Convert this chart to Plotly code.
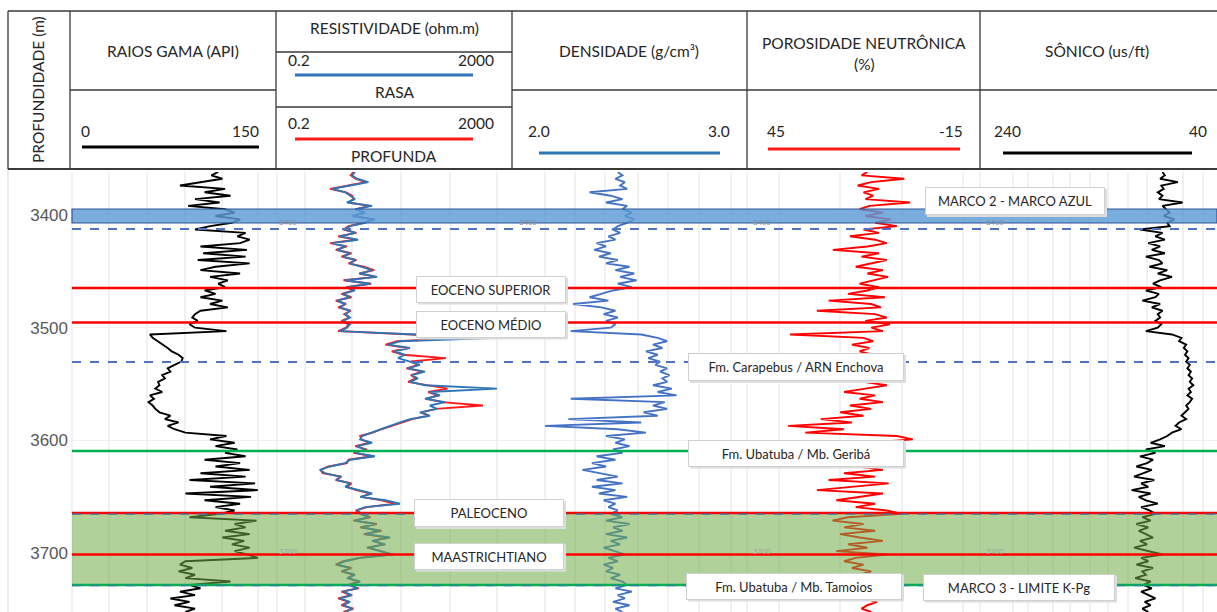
import plotly.graph_objects as go

# ---------------- data (depth in m) ----------------
depth = list(range(3362, 3753, 3))  # sampling depths

gr = [107, 102, 110, 94, 79, 112, 97, 116, 90, 108,
      85, 112, 119, 105, 123, 117, 101, 90, 127, 121,
      130, 123, 94, 128, 96, 127, 92, 130, 105, 94,
      123, 101, 114, 107, 112, 97, 105, 94, 110, 101,
      114, 94, 90, 88, 92, 86, 90, 113, 57, 59,
      63, 67, 70, 73, 78, 81, 80, 75, 70, 72,
      66, 68, 63, 64, 61, 66, 57, 60, 56, 59,
      61, 64, 72, 68, 78, 70, 75, 83, 113, 101,
      119, 105, 121, 112, 127, 97, 123, 105, 130, 94,
      127, 86, 134, 101, 136, 83, 131, 97, 123, 105,
      119, 108, 86, 135, 119, 127, 112, 130, 110, 126,
      117, 130, 119, 128, 136, 83, 79, 88, 78, 90,
      83, 116, 86, 94, 79, 90, 72, 86, 75, 90,
      83]

res_rasa = [4.25, 3.8, 4.6, 7.2, 3.5, 1.75, 2.9, 3.5, 4.25, 3.1,
            8.3, 4.25, 6.3, 3.8, 9.3, 6.3, 3.5, 2.9, 4.25, 2.36,
            4.8, 1.75, 2.9, 2.1, 3.5, 2.65, 4.25, 3.5, 5.6, 8.3,
            5.2, 10.1, 2.9, 7.7, 3.1, 4.25, 2.65, 3.5, 2.1, 2.9,
            2.36, 3.5, 2.9, 3.5, 2.65, 3.5, 3.1, 2.36, 45, 1111,
            24.8, 15.5, 36.7, 20, 30, 23, 36.7, 54, 34, 66,
            40, 50, 36.7, 66, 1111, 80, 119, 66, 145, 80,
            106, 54, 80, 36.7, 24.8, 16.8, 11.3, 7.7, 5.6, 5.2,
            8.3, 4.6, 6.3, 4.25, 9.3, 3.5, 2.9, 1.6, 1.08, 1.3,
            2.36, 2.1, 3.5, 2.9, 4.8, 8.3, 5.2, 14, 24.8, 6.3,
            4.6, 5.6, 7.2, 4.25, 9.3, 5.6, 11.3, 6.3, 16.8, 8.3,
            14, 7.2, 11.3, 18.9, 5.2, 2.9, 2.1, 3.5, 2.65, 4.25,
            3.1, 5.2, 3.5, 4.6, 2.65, 3.8, 2.36, 3.5, 2.65, 3.8,
            2.9]

res_profunda = [4.0, 3.6, 4.4, 6.5, 3.3, 1.6, 3.0, 3.8, 4.0, 3.3,
                7.5, 4.5, 6.0, 4.0, 8.5, 6.0, 3.3, 2.7, 4.5, 2.2,
                4.4, 1.6, 3.1, 2.0, 3.7, 2.5, 4.5, 3.3, 6.0, 9.0,
                5.0, 9.5, 2.7, 8.0, 3.0, 4.0, 2.5, 3.7, 2.0, 3.0,
                2.2, 3.6, 2.8, 3.4, 2.5, 3.3, 3.0, 2.2, 40, 300,
                22, 14, 33, 18, 28, 150, 38, 50, 32, 60,
                38, 46, 34, 70, 160, 75, 110, 70, 130, 640,
                100, 58, 75, 40, 28, 18, 12, 8.5, 5.2, 5.5,
                7.5, 4.3, 6.8, 4.0, 8.5, 3.3, 3.1, 1.5, 1.1, 1.2,
                2.5, 2.0, 3.7, 3.1, 4.5, 7.8, 5.5, 12, 20, 6.8,
                4.4, 5.2, 7.8, 4.0, 10, 5.2, 12, 6.0, 15, 8.8,
                13, 6.8, 12, 17, 5.0, 2.7, 2.0, 3.7, 2.5, 4.0,
                3.3, 4.8, 3.3, 4.9, 2.5, 3.6, 2.2, 3.3, 2.5, 4.0,
                2.7]

densidade = [2.45, 2.47, 2.44, 2.48, 2.46, 2.49, 2.33, 2.42, 2.47, 2.40,
             2.49, 2.47, 2.51, 2.48, 2.52, 2.49, 2.45, 2.43, 2.46, 2.41,
             2.44, 2.36, 2.40, 2.35, 2.42, 2.37, 2.45, 2.40, 2.50, 2.44,
             2.52, 2.46, 2.53, 2.45, 2.51, 2.43, 2.38, 2.33, 2.41, 2.26,
             2.38, 2.44, 2.39, 2.45, 2.40, 2.44, 2.42, 2.25, 2.55, 2.62,
             2.66, 2.60, 2.64, 2.57, 2.62, 2.58, 2.63, 2.61, 2.66, 2.63,
             2.67, 2.64, 2.66, 2.60, 2.68, 2.62, 2.70, 2.25, 2.65, 2.60,
             2.66, 2.56, 2.62, 2.24, 2.55, 2.14, 2.45, 2.57, 2.40, 2.48,
             2.44, 2.50, 2.43, 2.47, 2.36, 2.44, 2.34, 2.40, 2.30, 2.38,
             2.45, 2.36, 2.47, 2.34, 2.44, 2.37, 2.49, 2.39, 2.44, 2.41,
             2.45, 2.42, 2.47, 2.40, 2.50, 2.43, 2.47, 2.40, 2.49, 2.42,
             2.46, 2.39, 2.44, 2.48, 2.41, 2.45, 2.39, 2.43, 2.40, 2.46,
             2.42, 2.47, 2.49, 2.44, 2.51, 2.45, 2.48, 2.43, 2.50, 2.44,
             2.47]

porosidade = [14.0, 15.5, 4.5, 13.0, 16.5, 11.0, 15.0, 12.5, 14.5, 3.0,
              13.5, 16.0, 10.0, 14.5, 8.0, 12.0, 6.4, 15.0, 11.0, 18.5,
              12.0, 9.0, 14.0, 22.9, 11.0, 15.5, 9.0, 13.0, 17.0, 10.0,
              14.0, 8.7, 12.5, 16.0, 11.0, 14.0, 19.0, 9.5, 24.0, 13.0,
              10.5, 27.0, 12.0, 9.0, 14.5, 8.2, 13.0, 10.0, 33.9, 15.0,
              12.5, 18.0, 13.5, 16.0, 12.6, 15.0, 14.0, 16.5, 13.0, 15.5,
              14.0, 12.5, 15.0, 9.0, 14.5, 20.0, 12.0, 16.0, 10.0, 18.5,
              13.0, 21.0, 15.0, 26.0, 18.0, 34.4, 20.0, 30.0, 6.4, 2.3,
              14.0, 15.0, 13.5, 16.0, 12.0, 15.0, 14.0, 16.5, 10.0, 20.0,
              12.0, 24.0, 8.5, 18.0, 27.0, 10.0, 16.0, 22.0, 12.0, 17.0,
              9.0, 5.0, 19.0, 23.0, 15.0, 20.0, 12.0, 21.0, 16.0, 10.0,
              19.0, 14.0, 22.0, 9.0, 17.0, 20.0, 15.0, 18.0, 13.0, 16.0,
              14.0, 15.0, 13.0, 16.0, 14.5, 12.0, 15.0, 11.5, 14.0, 15.5,
              13.0]

sonico = [86, 84, 88, 73, 87, 85, 90, 86, 89, 69,
          86, 83, 80, 85, 76, 82, 80, 105, 86, 92,
          84, 98, 88, 95, 84, 100, 89, 86, 97, 82,
          90, 78, 88, 94, 87, 100, 89, 92, 103, 88,
          95, 86, 90, 88, 92, 87, 90, 100, 78, 70,
          72, 66, 68, 65, 67, 64, 66, 63, 65, 62,
          64, 61, 63, 60, 64, 62, 65, 61, 63, 66,
          64, 67, 70, 66, 72, 75, 70, 78, 82, 88,
          96, 84, 100, 92, 105, 94, 99, 108, 95, 102,
          110, 93, 104, 98, 112, 96, 106, 100, 90, 104,
          97, 92, 103, 96, 108, 98, 106, 100, 94, 105,
          99, 110, 97, 86, 104, 98, 108, 94, 103, 100,
          109, 96, 102, 95, 104, 98, 92, 101, 96, 103,
          98]

for arr in (gr, res_rasa, res_profunda, densidade, porosidade, sonico):
    assert len(arr) == len(depth), len(arr)

depth_ticks = [3400, 3500, 3600, 3700]

# marker bands / tops (depth, m)
marco2_band = (3394.8, 3407.2)
kpg_band = (3664.3, 3728.0)
tops_red = [3464.8, 3495.4, 3664.3, 3701.0]
tops_green = [3609.3, 3728.0]
tops_dashed = [3412.5, 3530.4]

# ---------------- helpers for layout placement (pixels -> paper) ----------------
L, R, T, B = 72, 1217, 172, 612
W, H = R - L, B - T


def PX(x):
    return (x - L) / W


def PY(y):
    return (B - y) / H


fig = go.Figure()

FONT = "Lato"
TXT = "#262626"
LW = 1.9

# ---------------- traces ----------------
fig.add_trace(go.Scatter(x=gr, y=depth, mode="lines", line=dict(color="#000000", width=LW),
                         xaxis="x", yaxis="y", showlegend=False))
fig.add_trace(go.Scatter(x=res_profunda, y=depth, mode="lines", line=dict(color="#ff1a1a", width=LW),
                         xaxis="x2", yaxis="y", showlegend=False))
fig.add_trace(go.Scatter(x=res_rasa, y=depth, mode="lines", line=dict(color="#2e75b6", width=LW),
                         xaxis="x2", yaxis="y", showlegend=False))
fig.add_trace(go.Scatter(x=densidade, y=depth, mode="lines", line=dict(color="#4472c4", width=LW),
                         xaxis="x3", yaxis="y", showlegend=False))
fig.add_trace(go.Scatter(x=porosidade, y=depth, mode="lines", line=dict(color="#ff0000", width=LW),
                         xaxis="x4", yaxis="y", showlegend=False))
fig.add_trace(go.Scatter(x=sonico, y=depth, mode="lines", line=dict(color="#000000", width=LW),
                         xaxis="x5", yaxis="y", showlegend=False))

shapes = []

# ---------------- faint grid lines ----------------
grid_px = [72, 109, 147, 185, 222, 258, 277,
           305, 352, 401, 450, 497,
           545, 575, 605, 638, 668, 699, 731,
           747, 779, 840, 902, 963,
           980, 1013, 1028, 1053, 1070, 1090, 1108, 1128, 1147, 1183, 1203]
for gx in grid_px:
    shapes.append(dict(type="line", xref="paper", yref="paper", x0=PX(gx), x1=PX(gx), y0=0, y1=1,
                       line=dict(color="#e3e3e3", width=1), layer="below"))
# plot left border
shapes.append(dict(type="line", xref="paper", yref="paper", x0=PX(8), x1=PX(8), y0=0, y1=PY(168),
                   line=dict(color="#d9d9d9", width=1), layer="below"))

# ---------------- marker bands and tops ----------------
shapes.append(dict(type="rect", xref="paper", yref="y", x0=0, x1=1, y0=marco2_band[0], y1=marco2_band[1],
                   fillcolor="rgba(91,155,213,0.82)", line=dict(color="#2f5597", width=1.2), layer="above"))
shapes.append(dict(type="rect", xref="paper", yref="y", x0=0, x1=1, y0=kpg_band[0], y1=kpg_band[1],
                   fillcolor="rgba(112,173,71,0.55)", line=dict(width=0), layer="above"))
for d in tops_dashed:
    shapes.append(dict(type="line", xref="paper", yref="y", x0=0, x1=1, y0=d, y1=d,
                       line=dict(color="#4f72c4", width=2, dash="dash"), layer="above"))
for d in tops_green:
    shapes.append(dict(type="line", xref="paper", yref="y", x0=0, x1=1, y0=d, y1=d,
                       line=dict(color="#00b050", width=2.5), layer="above"))
for d in tops_red:
    shapes.append(dict(type="line", xref="paper", yref="y", x0=0, x1=1, y0=d, y1=d,
                       line=dict(color="#ff0000", width=2.5), layer="above"))
# dashed edges of the K-Pg band
for d in (kpg_band[0] + 0.9, kpg_band[1] + 0.6):
    shapes.append(dict(type="line", xref="paper", yref="y", x0=0, x1=1, y0=d, y1=d,
                       line=dict(color="#3a7ca5", width=1.3, dash="dash"), layer="above"))

# ---------------- header table ----------------
HC = "#3a3a3a"


def hline(y, x0, x1, color=HC, w=1.3):
    shapes.append(dict(type="line", xref="paper", yref="paper", x0=PX(x0), x1=PX(x1), y0=PY(y), y1=PY(y),
                       line=dict(color=color, width=w)))


def vline(x, y0, y1, color=HC, w=1.3):
    shapes.append(dict(type="line", xref="paper", yref="paper", x0=PX(x), x1=PX(x), y0=PY(y0), y1=PY(y1),
                       line=dict(color=color, width=w)))


hline(11, 8, 1217)
hline(169, 8, 1217, w=2)
hline(90, 70, 276)
hline(52, 276, 512)
hline(107, 276, 512)
hline(90, 512, 1217)
for x in (8, 70, 276, 512, 747, 980):
    vline(x, 11, 169)

# scale bars in header
hline(147, 82, 259, color="#000000", w=3)
hline(75, 295, 473, color="#2e75b6", w=3)
hline(139, 295, 473, color="#ff1a1a", w=3)
hline(153, 539, 720, color="#2e75b6", w=3)
hline(149, 768, 960, color="#ff1a1a", w=3)
hline(153, 1003, 1192, color="#000000", w=3)

annotations = []
HS = 15.5


def text(x, y, s, size=HS, anchor="center", angle=0, color=TXT, family=FONT):
    annotations.append(dict(x=PX(x), y=PY(y), xref="paper", yref="paper", text=s, showarrow=False,
                            xanchor=anchor, yanchor="middle", textangle=angle,
                            font=dict(family=family, size=size, color=color)))


text(38, 90, "PROFUNDIDADE (m)", angle=-90)
text(173, 51, "RAIOS GAMA (API)")
text(79, 131, "0", anchor="left")
text(261, 131, "150", anchor="right")
text(394, 28, "RESISTIVIDADE (ohm.m)")
text(286, 60, "0.2", anchor="left")
text(496, 60, "2000", anchor="right")
text(394, 92, "RASA")
text(286, 123, "0.2", anchor="left")
text(496, 123, "2000", anchor="right")
text(394, 156, "PROFUNDA")
text(629, 51, "DENSIDADE (g/cm³)")
text(526, 131, "2.0", anchor="left")
text(732, 131, "3.0", anchor="right")
text(864, 43, "POROSIDADE NEUTRÔNICA")
text(864, 64, "(%)")
text(765, 131, "45", anchor="left")
text(965, 131, "-15", anchor="right")
text(1097, 51, "SÔNICO (us/ft)")
text(992, 131, "240", anchor="left")
text(1209, 131, "40", anchor="right")

# faint depth labels of the neighbouring tracks
for fx in (288, 528, 762, 995):
    text(fx, 222, "3400", size=8, color="#7f8fa6", family="Liberation Sans")
for fx in (288, 762, 995):
    text(fx, 551, "3700", size=8, color="#9aa79a", family="Liberation Sans")

# formation / marker label boxes
boxes = [
    ("MARCO 2 - MARCO AZUL", 1015, 201, 180, 28),
    ("EOCENO SUPERIOR", 491, 289, 150, 27),
    ("EOCENO MÉDIO", 491, 324, 150, 27),
    ("Fm. Carapebus / ARN Enchova", 796, 367, 216, 28),
    ("Fm. Ubatuba / Mb. Geribá", 796, 453, 216, 27),
    ("PALEOCENO", 489, 513, 150, 28),
    ("MAASTRICHTIANO", 489, 556, 150, 27),
    ("Fm. Ubatuba / Mb. Tamoios", 794, 586, 216, 27),
    ("MARCO 3 - LIMITE K-Pg", 1019, 587, 192, 27),
]
for s, cx, cy, bw, bh in boxes:
    shapes.append(dict(type="rect", xref="paper", yref="paper",
                       x0=PX(cx - bw / 2 + 2), x1=PX(cx + bw / 2 + 2), y0=PY(cy + bh / 2 + 2), y1=PY(cy - bh / 2 + 2),
                       fillcolor="#dedede", line=dict(width=0), layer="above"))
    annotations.append(dict(x=PX(cx), y=PY(cy), xref="paper", yref="paper", text=s, showarrow=False,
                            xanchor="center", yanchor="middle", bgcolor="white", bordercolor="#d0d0d0",
                            borderwidth=1, borderpad=0, width=bw - 2, height=bh - 2,
                            font=dict(family=FONT, size=13, color=TXT)))

# ---------------- axes ----------------
def track_axis(x0, x1, rng, typ="linear"):
    return dict(domain=[PX(x0), PX(x1)], range=rng, type=typ, visible=False, anchor="y",
                showgrid=False, zeroline=False, fixedrange=True)


fig.update_layout(
    width=1217, height=612, autosize=False,
    margin=dict(l=L, r=1217 - R, t=T, b=612 - B, pad=0),
    paper_bgcolor="white", plot_bgcolor="white",
    xaxis=track_axis(72, 277, [0, 150]),
    xaxis2=track_axis(277, 512, [-0.69897, 3.30103], "log"),
    xaxis3=track_axis(512, 747, [2.0, 3.0]),
    xaxis4=track_axis(747, 980, [45, -15]),
    xaxis5=track_axis(980, 1217, [240, 40]),
    yaxis=dict(range=[3752, 3362], tickvals=depth_ticks, showgrid=True, gridcolor="#efefef",
               zeroline=False, showline=False, ticks="", ticklabelstandoff=3,
               tickfont=dict(family="Liberation Sans", size=17, color="#595959")),
    shapes=shapes,
    annotations=annotations,
    showlegend=False,
)

fig.write_html("out.html")
